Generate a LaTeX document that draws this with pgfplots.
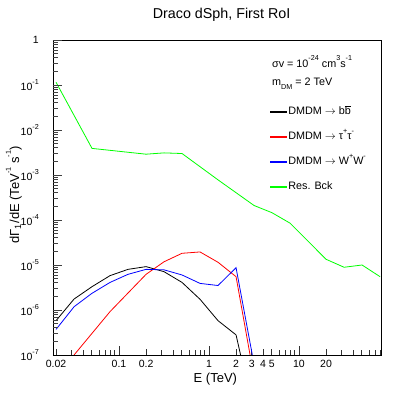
\documentclass[border=0pt]{standalone}
\usepackage{fontspec}
\setmainfont{Liberation Sans}
\usepackage{pgfplots}
\usepackage{pgfplotstable}
\pgfplotsset{compat=1.18}
\definecolor{rootgreen}{RGB}{0,255,0}
\definecolor{rootblue}{RGB}{0,0,255}
\definecolor{rootred}{RGB}{255,0,0}
\newcommand\sups[1]{\raisebox{0.62em}{\fontsize{7.2}{8}\selectfont #1}}
\newcommand\subs[1]{\raisebox{-0.35em}{\fontsize{7.2}{8}\selectfont #1}}
\pgfplotstableread{
x y
0.02 5.8e-7
0.0317 1.75e-6
0.0502 3.3e-6
0.0796 5.8e-6
0.126 8.0e-6
0.2 9.2e-6
0.317 7.1e-6
0.502 4.1e-6
0.796 1.73e-6
1.26 5.8e-7
2.0 2.8e-7
3.17 4.7e-9
}\bb
\pgfplotstableread{
x y
0.0317 1.0e-7
0.0796 9.2e-7
0.2 6.2e-6
0.317 1.18e-5
0.502 1.82e-5
0.796 1.95e-5
1.26 1.15e-5
2.0 5.5e-6
3.17 3.2e-8
}\tautau
\pgfplotstableread{
x y
0.02 3.7e-7
0.0317 1.18e-6
0.0502 2.35e-6
0.0796 4.1e-6
0.126 6.2e-6
0.2 8.0e-6
0.317 7.8e-6
0.502 6.0e-6
0.796 3.9e-6
1.26 3.5e-6
2.0 8.7e-6
3.17 6.2e-8
}\ww
\pgfplotstableread{
x y
0.02 0.115
0.0502 3.9e-3
0.2 2.9e-3
0.317 3.1e-3
0.502 3.0e-3
1.26 7.8e-4
3.17 2.1e-4
5.02 1.45e-4
7.96 8.5e-5
20 1.34e-5
31.7 8.9e-6
50.2 1.0e-5
79.6 5.5e-6
}\bck
\begin{document}
\begin{tikzpicture}
\begin{axis}[
  scale only axis, width=328.7pt, height=315pt,
  xmode=log, ymode=log,
  xmin=0.0185, xmax=83, ymin=1e-7, ymax=1,
  axis line style={line width=0.8pt, draw=black},
  tick align=inside, xtick pos=left, ytick pos=left,
  major tick style={draw=black!80, line width=0.9pt},
  minor tick style={draw=black!80, line width=0.9pt},
  major tick length=9pt, minor tick length=5pt,
  xtick={0.1,1,10}, xticklabels={0.1,1,10},
  extra x ticks={0.02,0.2,2,3,4,5,20},
  extra x tick labels={0.02,0.2,2,3,4,5,20},
  extra x tick style={major tick length=6pt},
  minor xtick={0.03,0.04,0.05,0.06,0.07,0.08,0.09,0.3,0.4,0.5,0.6,0.7,0.8,0.9,6,7,8,9,30,40,50,60,70,80},
  ytick={1e-7,1e-6,1e-5,1e-4,1e-3,1e-2,1e-1,1},
  yticklabels={10\sups{-7},10\sups{-6},10\sups{-5},10\sups{-4},10\sups{-3},10\sups{-2},10\sups{-1},1},
  xticklabel style={font=\fontsize{10.5}{12}\selectfont, anchor=north, inner sep=0pt, yshift=-5pt},
  yticklabel style={font=\fontsize{10.5}{12}\selectfont, anchor=east, inner sep=0pt, xshift=-14pt},
  xlabel={E (TeV)},
  xlabel style={at={(rel axis cs:0.494,-0.0889)}, anchor=base, font=\fontsize{13}{15}\selectfont},
  ylabel={d\char"0393\textsubscript{1}/dE (TeV\sups{-1} s\sups{-1})},
  ylabel style={at={(rel axis cs:-0.1034,0.508)}, anchor=base, font=\fontsize{13}{15}\selectfont},
  title={Draco dSph, First RoI},
  title style={at={(rel axis cs:0.513,1.0476)}, anchor=base, font=\fontsize{14.3}{17}\selectfont},
  legend style={at={(rel axis cs:0.660,0.788)}, anchor=north west, draw=none, fill=none, inner sep=0pt,
    font=\fontsize{10.8}{13}\selectfont, row sep=15pt,
    nodes={text height=8pt, text depth=2pt, inner sep=0pt}},
  legend cell align=left,
  legend image code/.code={\fill[#1] (0pt,0.1pt) rectangle (16pt,0.9pt);},
]
\addplot[black, line width=0.8pt, forget plot] table {\bb};
\addplot[rootred, line width=0.8pt, forget plot] table {\tautau};
\addplot[rootblue, line width=0.8pt, forget plot] table {\ww};
\addplot[rootgreen, line width=0.8pt, forget plot] table {\bck};
\addlegendimage{black}
\addlegendentry{\,DMDM $\rightarrow$ b$\overline{\hbox{b}}$}
\addlegendimage{rootred}
\addlegendentry{\,DMDM $\rightarrow$ τ\sups{+}τ\sups{-}}
\addlegendimage{rootblue}
\addlegendentry{\,DMDM $\rightarrow$ W\sups{+}W\sups{-}}
\addlegendimage{rootgreen}
\addlegendentry{\,Res. Bck}
\pgfplotsinvokeforeach{1e-7,1e-6,1e-5,1e-4,1e-3,1e-2,1e-1,1}{
  \fill[black!75] ([yshift=-0.45pt]axis cs:0.0185,#1) rectangle ([xshift=9pt,yshift=0.45pt]axis cs:0.0185,#1);
}
\pgfplotsinvokeforeach{2e-7,3e-7,4e-7,5e-7,6e-7,7e-7,8e-7,9e-7,2e-6,3e-6,4e-6,5e-6,6e-6,7e-6,8e-6,9e-6,2e-5,3e-5,4e-5,5e-5,6e-5,7e-5,8e-5,9e-5,2e-4,3e-4,4e-4,5e-4,6e-4,7e-4,8e-4,9e-4,2e-3,3e-3,4e-3,5e-3,6e-3,7e-3,8e-3,9e-3,2e-2,3e-2,4e-2,5e-2,6e-2,7e-2,8e-2,9e-2,0.2,0.3,0.4,0.5,0.6,0.7,0.8,0.9}{
  \fill[black!75] ([yshift=-0.45pt]axis cs:0.0185,#1) rectangle ([xshift=5pt,yshift=0.45pt]axis cs:0.0185,#1);
}
\node[anchor=base west, font=\fontsize{10.8}{13}\selectfont, inner sep=0pt] at (rel axis cs:0.666,0.914) {σv = 10\sups{-24} cm\sups{3}s\sups{-1}};
\node[anchor=base west, font=\fontsize{10.8}{13}\selectfont, inner sep=0pt] at (rel axis cs:0.666,0.854) {m\subs{DM} = 2 TeV};
\end{axis}
\pgfresetboundingbox
\path[use as bounding box] ([xshift=-53pt,yshift=-40pt]current axis.south west) rectangle ([xshift=29.3pt,yshift=40pt]current axis.north east);
\end{tikzpicture}
\end{document}
